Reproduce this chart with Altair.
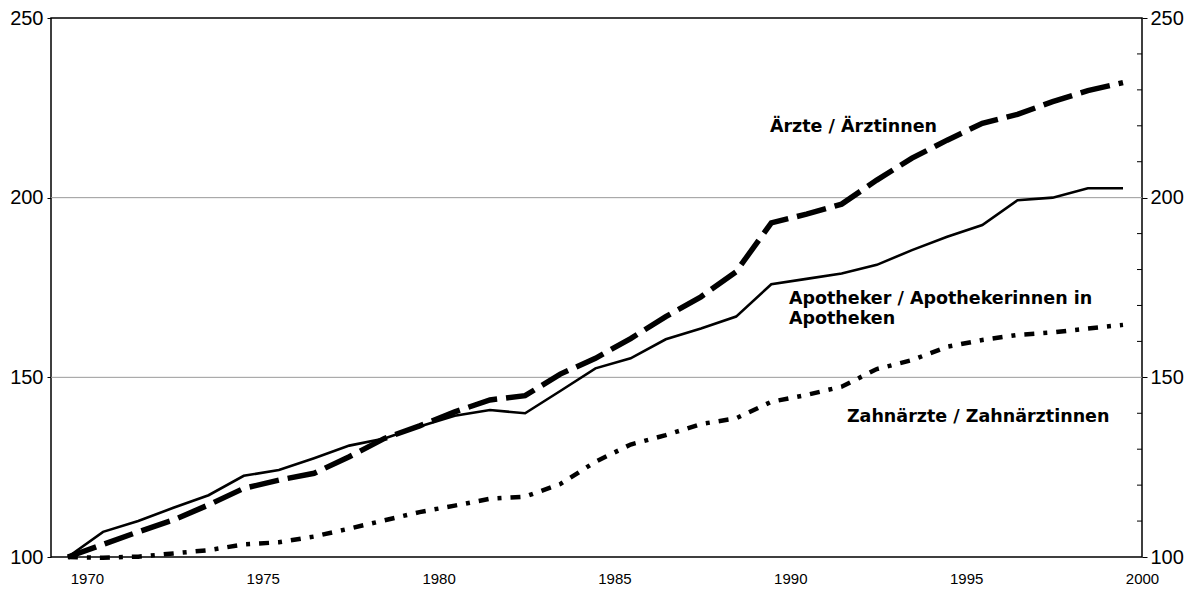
import altair as alt
import pandas as pd

# ---- data (index, 1970 = 100) ----
years = list(range(1970, 2001))
aerzte = [100, 103.5, 107.0, 110.3, 114.5, 119.1, 121.4, 123.3, 127.9, 133.0,
          136.5, 140.4, 143.7, 144.9, 150.9, 155.3, 160.8, 166.9, 172.4, 179.4,
          193.0, 195.4, 198.2, 204.9, 211.0, 216.0, 220.7, 223.2, 226.7, 229.8, 232.0]
apotheker = [100, 107.0, 110.0, 113.7, 117.2, 122.6, 124.2, 127.5, 131.0, 133.0,
             136.3, 139.3, 140.9, 140.0, 146.2, 152.5, 155.3, 160.6, 163.6, 166.9,
             175.9, 177.4, 178.9, 181.3, 185.4, 189.1, 192.4, 199.3, 200.0, 202.6, 202.6]
zahnaerzte = [100, 99.8, 100.1, 101.0, 101.9, 103.5, 104.1, 105.7, 107.9, 110.2,
              112.5, 114.3, 116.2, 116.8, 120.3, 126.5, 131.3, 133.9, 137.0, 138.6,
              143.2, 145.1, 147.4, 152.3, 154.8, 158.5, 160.4, 161.8, 162.5, 163.6, 164.6]
series_names = ["Ärzte / Ärztinnen",
                "Apotheker / Apothekerinnen in Apotheken",
                "Zahnärzte / Zahnärztinnen"]
x_tick_labels = [1970, 1975, 1980, 1985, 1990, 1995, 2000]
y_tick_labels = [100, 150, 200, 250]
grid_values = [150, 200]
minor_values = [110, 120, 130, 140, 160, 170, 180, 190, 210, 220, 230, 240]

ann_text = ["Ärzte / Ärztinnen", "Apotheker / Apothekerinnen in", "Apotheken",
            "Zahnärzte / Zahnärztinnen"]
ann_x = [1989.96, 1990.5, 1990.5, 1992.15]
ann_y = [218.3, 170.4, 164.8, 137.6]

# ---- tables ----
rows = []
for name, vals in zip(series_names, [aerzte, apotheker, zahnaerzte]):
    for yr, v in zip(years, vals):
        rows.append({"Jahr": yr, "Index": v, "Reihe": name})
df = pd.DataFrame(rows)
grid_df = pd.DataFrame({"v": grid_values})
minor_df = pd.DataFrame({"v": minor_values})
ann_df = pd.DataFrame({"Jahr": ann_x, "Index": ann_y, "t": ann_text})

W, H = 1091, 539
x_scale = alt.Scale(domain=[1969.52, 2000.54], nice=False, zero=False)
y_scale = alt.Scale(domain=[100, 250], nice=False, zero=False)

num_font = "Liberation Sans, Arial, Helvetica, sans-serif"
year_font = "Liberation Sans Narrow, Arial Narrow, Liberation Sans, Arial, sans-serif"
ann_font = "DejaVu Sans, Verdana, sans-serif"

x_axis = alt.Axis(values=x_tick_labels, format="d", title=None, grid=False,
                  ticks=False, domain=False, labelOffset=19, labelFlush=False,
                  labelPadding=14, labelFont=year_font, labelFontSize=15,
                  labelColor="black")
x_enc = alt.X("Jahr:Q", scale=x_scale, axis=x_axis)

left_axis = alt.Axis(values=y_tick_labels, title=None, grid=False, domain=False,
                     tickSize=4, tickColor="black", labelPadding=4,
                     labelFont=num_font, labelFontSize=20, labelColor="black",
                     labelFlush=False, orient="left")
right_axis = alt.Axis(values=y_tick_labels, title=None, grid=False, domain=False,
                      tickSize=5, tickColor="black", labelPadding=3,
                      labelFont=num_font, labelFontSize=20, labelColor="black",
                      labelFlush=False, orient="right")

grid = alt.Chart(grid_df).mark_rule(color="#9a9a9a", strokeWidth=1).encode(
    y=alt.Y("v:Q", scale=y_scale, axis=None))

minor = alt.Chart(minor_df).mark_rule(color="black", strokeWidth=1).encode(
    y=alt.Y("v:Q", scale=y_scale, axis=None),
    x=alt.value(W - 5), x2=alt.value(W))

base = alt.Chart(df)
l_aerzte = base.transform_filter(alt.datum.Reihe == series_names[0]).mark_line(
    color="black", strokeWidth=5.5, strokeDash=[30, 9], strokeCap="butt"
).encode(x=x_enc, y=alt.Y("Index:Q", scale=y_scale, axis=left_axis))

l_apo = base.transform_filter(alt.datum.Reihe == series_names[1]).mark_line(
    color="black", strokeWidth=2.6
).encode(x=x_enc, y=alt.Y("Index:Q", scale=y_scale, axis=right_axis))

l_zahn = base.transform_filter(alt.datum.Reihe == series_names[2]).mark_line(
    color="black", strokeWidth=4.5, strokeDash=[10, 9, 4, 9], strokeCap="butt"
).encode(x=x_enc, y=alt.Y("Index:Q", scale=y_scale, axis=None))

labels = alt.Chart(ann_df).mark_text(
    align="left", baseline="alphabetic", font=ann_font, fontSize=17.5,
    fontWeight="bold", color="black"
).encode(x=x_enc, y=alt.Y("Index:Q", scale=y_scale, axis=None), text="t:N")

chart = alt.layer(grid, minor, l_aerzte, l_apo, l_zahn, labels).resolve_axis(
    y="independent"
).properties(
    width=W, height=H,
    background="white",
    autosize=alt.AutoSizeParams(type="none"),
    padding={"left": 43, "top": 10, "right": 44, "bottom": 30},
).configure_view(stroke="black", strokeWidth=1.5)

chart.save("out.html", embed_options={"renderer": "svg", "actions": False})
